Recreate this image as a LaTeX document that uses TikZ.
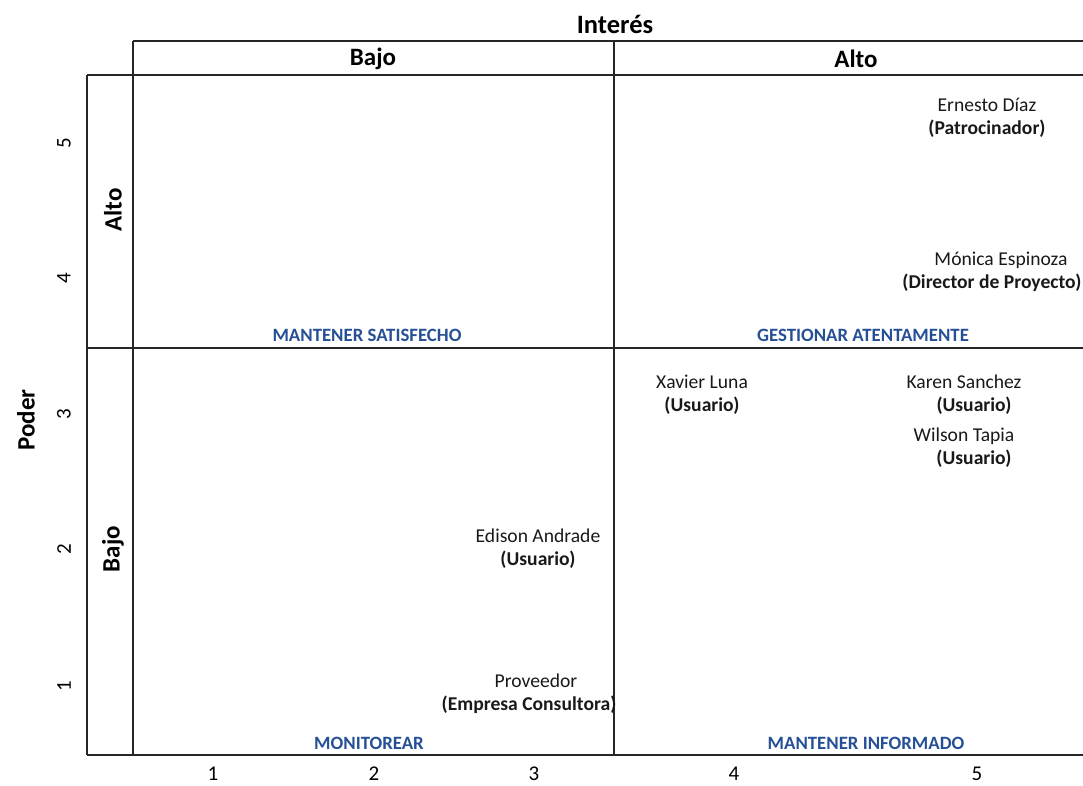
\documentclass[tikz,border=0pt]{standalone}
\usepackage{fontspec}
\setmainfont{Carlito}
\definecolor{quadblue}{RGB}{38,80,150}
\begin{document}
\begin{tikzpicture}[x=1pt,y=-1pt,
  grid/.style={line width=1.6pt,black!85},
  head/.style={font=\fontsize{25}{27}\selectfont\bfseries,inner sep=0pt},
  num/.style={font=\fontsize{21}{23}\selectfont,inner sep=0pt},
  quad/.style={font=\fontsize{18.8}{20}\selectfont\bfseries,text=quadblue,inner sep=0pt},
  who/.style={font=\fontsize{19.6}{23}\selectfont,align=center,inner sep=0pt,text=black!90}]
\useasboundingbox (0,0) rectangle (1083,785);
% grid
\coordinate (t1) at (133,41); \coordinate (t2) at (1083,41);
\coordinate (h1) at (87,75);  \coordinate (h2) at (1083,75);
\coordinate (m1) at (87,348); \coordinate (m2) at (1083,348);
\coordinate (b1) at (87,755); \coordinate (b2) at (1083,755);
\coordinate (v1a) at (133,41); \coordinate (v1b) at (133,755);
\coordinate (v2a) at (614,41); \coordinate (v2b) at (614,755);
\draw[grid] (t1) -- (t2);
\draw[grid] (h1) -- (h2);
\draw[grid] (m1) -- (m2);
\draw[grid] (b1) -- (b2);
\draw[grid] (h1) -- (b1);
\draw[grid] (v1a) -- (v1b);
\draw[grid] (v2a) -- (v2b);
% headers
\node[head,font=\fontsize{26.5}{28}\selectfont\bfseries] (interes) at (615,24) {Interés};
\node[head] (bajoX) at (373,59) {Bajo};
\node[head] (altoX) at (856,59) {Alto};
\node[head,rotate=90] (poder) at (26,420) {Poder};
\node[head,rotate=90] (altoY) at (113,210) {Alto};
\node[head,rotate=90] (bajoY) at (113,549) {Bajo};
% axis numbers
\node[num,rotate=90] (y5) at (64,143) {5};
\node[num,rotate=90] (y4) at (64,278) {4};
\node[num,rotate=90] (y3) at (64,414) {3};
\node[num,rotate=90] (y2) at (64,549) {2};
\node[num,rotate=90] (y1) at (64,686) {1};
\node[num] (x1) at (213,774) {1};
\node[num] (x2) at (374,774) {2};
\node[num] (x3) at (534,774) {3};
\node[num] (x4) at (734,774) {4};
\node[num] (x5) at (977,774) {5};
% quadrant labels
\node[quad] (q1) at (367,335) {MANTENER SATISFECHO};
\node[quad] (q2) at (863,335) {GESTIONAR ATENTAMENTE};
\node[quad] (q3) at (369,743) {MONITOREAR};
\node[quad] (q4) at (866,743) {MANTENER INFORMADO};
% stakeholders
\node[who] (ernesto) at (987,118) {Ernesto Díaz\\\textbf{(Patrocinador)}};
\node[who] (monica) at (992,272) {\hspace*{18pt}Mónica Espinoza\\\textbf{(Director de Proyecto)}};
\node[who] (xavier) at (702,395) {Xavier Luna\\\textbf{(Usuario)}};
\node[who] (karen) at (964,395) {Karen Sanchez\\\hspace*{20pt}\textbf{(Usuario)}};
\node[who] (wilson) at (964,448) {Wilson Tapia\\\hspace*{20pt}\textbf{(Usuario)}};
\node[who] (edison) at (538,549) {Edison Andrade\\\textbf{(Usuario)}};
\node[who] (proveedor) at (529,694) {\hspace*{14pt}Proveedor\\\textbf{(Empresa Consultora)}};
\end{tikzpicture}
\end{document}
